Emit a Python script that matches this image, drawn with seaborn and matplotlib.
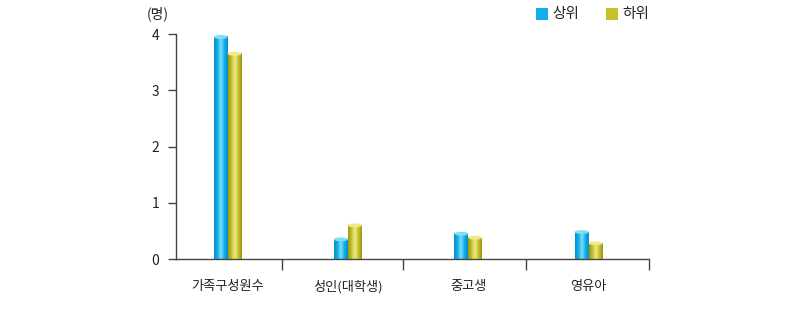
import numpy as np
import pandas as pd
import matplotlib
matplotlib.use("Agg")
import matplotlib.pyplot as plt
from matplotlib.patches import Ellipse, Rectangle
from matplotlib.colors import LinearSegmentedColormap
import seaborn as sns

categories = ["가족구성원수", "성인(대학생)", "중고생", "영유아"]
series_names = ["상위", "하위"]
upper_values = [3.95, 0.35, 0.45, 0.48]
lower_values = [3.65, 0.60, 0.38, 0.28]
y_ticks = [0, 1, 2, 3, 4]
unit_label = "(명)"

colors = {"상위": "#0FB0EA", "하위": "#C6C02C"}
light = {"상위": "#7FDDF8", "하위": "#EEEA8A"}
dark = {"상위": "#0A8DC0", "하위": "#9C9618"}

df = pd.DataFrame({
    "category": categories * 2,
    "series": [series_names[0]] * 4 + [series_names[1]] * 4,
    "value": upper_values + lower_values,
})

sns.set_theme(style="white")
plt.rcParams["font.family"] = ["Noto Sans CJK KR", "DejaVu Sans"]

W, H = 810, 319
fig = plt.figure(figsize=(W / 100, H / 100), dpi=100)
ax = fig.add_axes([0.217, 0.188, 0.584, 0.705])

sns.barplot(data=df, x="category", y="value", hue="series", order=categories,
            hue_order=series_names, palette=colors, width=0.232, dodge=True,
            legend=False, ax=ax, saturation=1, edgecolor="none")

# cylinder shading and caps
patch_series = []
for s in series_names:
    patch_series += [s] * len(categories)
for p, s in zip(ax.patches, patch_series):
    x0 = p.get_x(); w = p.get_width(); h = p.get_height()
    cmap = LinearSegmentedColormap.from_list("c", [dark[s], colors[s], light[s], colors[s], dark[s]])
    grad = np.linspace(0, 1, 64).reshape(1, -1)
    im = ax.imshow(grad, extent=[x0, x0 + w, 0, h], aspect="auto", cmap=cmap,
                   zorder=p.get_zorder() + 0.1, clip_on=False)
    im.set_clip_path(p)
    e = Ellipse((x0 + w / 2, h), w, 0.07, facecolor=light[s], edgecolor="none",
                zorder=p.get_zorder() + 0.2, clip_on=False)
    ax.add_patch(e)
ax.set_xlim(-0.43, 3.5)
ax.set_ylim(0, 4)

for side in ["top", "right"]:
    ax.spines[side].set_visible(False)
for side in ["left", "bottom"]:
    ax.spines[side].set_color("#444444")
    ax.spines[side].set_linewidth(1.0)

ax.set_yticks(y_ticks)
ax.set_yticklabels([str(t) for t in y_ticks], fontsize=10, color="#222222")
ax.tick_params(axis="y", direction="out", length=6, width=1, color="#444444", pad=6, left=True)

ax.set_xticks(range(len(categories)))
ax.set_xticklabels(categories, fontsize=9.5, color="#222222")
ax.tick_params(axis="x", which="major", length=0, pad=15)
ax.set_xticks([0.45, 1.46, 2.48, 3.5], minor=True)
ax.tick_params(axis="x", which="minor", direction="out", length=8, width=1, color="#444444", bottom=True)
ax.set_xlabel("")
ax.set_ylabel("")

fig.text(158 / W, 1 - 14 / H, unit_label, fontsize=10, color="#222222", ha="center", va="center")

# legend drawn manually
for s, sx in zip(series_names, [536, 606]):
    fig.patches.append(Rectangle((sx / W, 1 - 20 / H), 12 / W, 12 / H, transform=fig.transFigure,
                                 facecolor=colors[s], edgecolor="none"))
    fig.text((sx + 16) / W, 1 - 14 / H, s, fontsize=10.5, color="#222222", ha="left", va="center")

fig.savefig("out.png", dpi=100)
